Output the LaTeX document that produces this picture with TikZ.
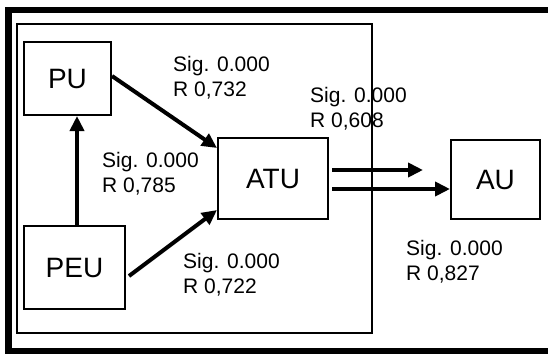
\documentclass[tikz,border=0pt]{standalone}
\usepackage{fontspec}
\setmainfont{Liberation Sans}
\usetikzlibrary{arrows.meta}

\begin{document}
\begin{tikzpicture}[x=1pt, y=-1pt,
    box/.style={draw, line width=2pt, inner sep=0pt,
                font=\fontsize{28}{32}\selectfont},
    lbl/.style={anchor=north west, inner sep=0pt, align=left,
                font=\fontsize{21}{25.5}\selectfont},
    arr/.style={-{Triangle[length=15pt, width=14pt]}, line width=4pt},
    frame/.style={line width=6.5pt},
    panel/.style={line width=2pt}
  ]
    \useasboundingbox (0,0) rectangle (548,354);
    \draw[frame] (548,10) -- (8.5,10) -- (8.5,351) -- (548,351);
    \draw[panel] (16.5,24) rectangle (372,332.5);

    \node[box, minimum width=87pt, minimum height=73pt] (pu) at (67.5,78.5) {PU};
    \node[box, minimum width=101pt, minimum height=83pt] (peu) at (74.5,267.5) {PEU};
    \node[box, minimum width=110pt, minimum height=81pt] (atu) at (273,178.5) {ATU};
    \node[box, minimum width=89pt, minimum height=79pt] (au) at (495.5,179.5) {AU};
    \coordinate (vx) at (77,0);
    \coordinate (ta) at (423,170);

    \node[lbl] (l1) at (173,56) {Sig. 0.000\\R 0,732};
    \node[lbl] (l2) at (102,152) {Sig. 0.000\\R 0,785};
    \node[lbl] (l3) at (183,253) {Sig. 0.000\\R 0,722};
    \node[lbl] (l4) at (310,87) {Sig. 0.000\\R 0,608};
    \node[lbl] (l5) at (406,240) {Sig. 0.000\\R 0,827};

    \draw[arr] (peu.north -| vx) -- (pu.south -| vx);
    \draw[arr] ([yshift=2.5pt]pu.east) -- ([yshift=30.5pt]atu.west);
    \draw[arr] ([xshift=3pt, yshift=-8.5pt]peu.east) -- ([yshift=-31.5pt]atu.west);
    \draw[arr] ([xshift=3pt, yshift=8.5pt]atu.east) -- (ta);
    \draw[arr] ([xshift=3pt, yshift=-10.5pt]atu.east) -- ([yshift=-9.5pt]au.west);
  \end{tikzpicture}
\end{document}
